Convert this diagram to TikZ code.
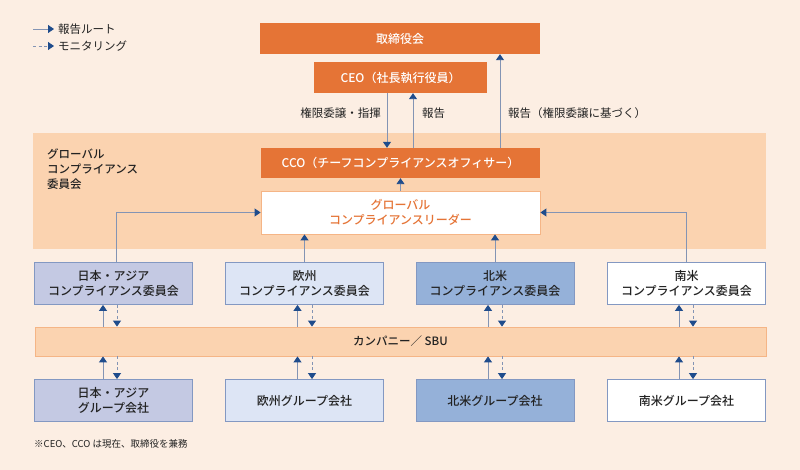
\documentclass[tikz,border=0pt]{standalone}
\usepackage{fontspec}
\setmainfont{Noto Sans CJK JP}[BoldFont={Noto Sans CJK JP Medium}]
\usetikzlibrary{arrows.meta}
\definecolor{bg}{HTML}{FCEEE3}
\definecolor{band}{HTML}{FBD3B0}
\definecolor{bandedge}{HTML}{F5B586}
\definecolor{orng}{HTML}{E57436}
\definecolor{txt}{HTML}{222222}
\definecolor{lnc}{HTML}{8394B4}
\definecolor{ahc}{HTML}{1F4C8C}
\definecolor{jpfill}{HTML}{C4C9E3}
\definecolor{eufill}{HTML}{DDE5F5}
\definecolor{nafill}{HTML}{95B1D9}
\definecolor{boxedge}{HTML}{8398C2}
\tikzset{
  every node/.style={font=\fontsize{11.5}{14.5}\selectfont, text=txt},
  obox/.style={fill=orng, draw=none, text=white, font=\fontsize{12}{14.5}\selectfont\bfseries, align=center, inner sep=0pt},
  rbox/.style={draw=boxedge, line width=0.8pt, minimum width=158pt, minimum height=42pt, align=center, inner sep=0pt, font=\fontsize{12}{14.5}\selectfont\bfseries},
  conn/.style={draw=lnc, line width=0.9pt, -{Triangle[length=6pt,width=8pt,color=ahc,fill=ahc]}},
  mon/.style={conn, dash pattern=on 3pt off 2.5pt},
}
\begin{document}
\begin{tikzpicture}[x=1pt,y=-1pt]
\fill[bg] (0,0) rectangle (800,470);
\useasboundingbox (0,0) rectangle (800,470);
% legend
\coordinate (la1) at (33,29); \coordinate (lb1) at (54,29);
\coordinate (la2) at (33,46); \coordinate (lb2) at (54,46);
\draw[conn] (la1) -- (lb1);
\draw[mon] (la2) -- (lb2);
\node[anchor=west, inner sep=0pt] (lt1) at (58,29) {報告ルート};
\node[anchor=west, inner sep=0pt] (lt2) at (58,46) {モニタリング};
% global band
\node[fill=band, minimum width=733pt, minimum height=116pt, inner sep=0pt] (gband) at (399.5,191) {};
\node[anchor=north west, align=left, inner sep=0pt, font=\fontsize{11.5}{15}\selectfont\bfseries] (gtitle) at (47,148.5) {グローバル\\コンプライアンス\\委員会};
% top boxes
\node[obox, minimum width=280pt, minimum height=31pt] (board) at (400,38.5) {取締役会};
\node[obox, minimum width=173pt, minimum height=31pt] (ceo) at (400.5,77.5) {CEO（社長執行役員）};
\node[obox, minimum width=279pt, minimum height=30pt] (cco) at (400.5,163) {CCO（チーフコンプライアンスオフィサー）};
\node[fill=white, draw=bandedge, line width=0.8pt, minimum width=279pt, minimum height=43pt, align=center, inner sep=0pt, text=orng, font=\fontsize{12}{14.5}\selectfont\bfseries] (leader) at (400.5,212.5) {グローバル\\コンプライアンスリーダー};
% top connectors
\coordinate (x387) at (387,0); \coordinate (x413) at (413,0); \coordinate (x500) at (500,0);
\draw[conn] (ceo.south -| x387) -- (cco.north -| x387);
\draw[conn] (cco.north -| x413) -- (ceo.south -| x413);
\draw[conn] (cco.north -| x500) -- (board.south -| x500);
\draw[conn] (leader.north) -- (cco.south);
\node[anchor=east, inner sep=0pt] (lab1) at (381,113) {権限委譲・指揮};
\node[anchor=west, inner sep=0pt] (lab2) at (422,113) {報告};
\node[anchor=west, inner sep=0pt] (lab3) at (508,113) {報告（権限委譲に基づく）};
% regional committees
\node[rbox, fill=jpfill] (jc) at (113.5,283.5) {日本・アジア\\コンプライアンス委員会};
\node[rbox, fill=eufill] (ec) at (304.5,283.5) {欧州\\コンプライアンス委員会};
\node[rbox, fill=nafill] (nc) at (495,283.5) {北米\\コンプライアンス委員会};
\node[rbox, fill=white] (sc) at (686.5,283.5) {南米\\コンプライアンス委員会};
% company band
\node[fill=band, draw=bandedge, line width=0.8pt, minimum width=731pt, minimum height=29pt, inner sep=0pt, font=\fontsize{11.5}{14}\selectfont\bfseries] (sbu) at (400.5,341.5) {カンパニー／ SBU};
% groups
\node[rbox, fill=jpfill] (jg) at (113.5,400.5) {日本・アジア\\グループ会社};
\node[rbox, fill=eufill] (eg) at (304.5,400.5) {欧州グループ会社};
\node[rbox, fill=nafill] (ng) at (495,400.5) {北米グループ会社};
\node[rbox, fill=white] (sg) at (686.5,400.5) {南米グループ会社};
% committee to leader
\coordinate (x116) at (116,0); \coordinate (x686) at (686,0);
\draw[conn] (jc.north -| x116) |- (leader.west);
\draw[conn] (sc.north -| x686) |- (leader.east);
\draw[conn] (ec.north) -- (leader.south -| ec.north);
\draw[conn] (nc.north) -- (leader.south -| nc.north);
% vertical pairs
\foreach \c/\g/\s/\d in {jc/jg/103/117, ec/eg/297.5/312, nc/ng/488/502, sc/sg/679/693}{
  \coordinate (s) at (\s,0); \coordinate (d) at (\d,0);
  \draw[conn] (sbu.north -| s) -- (\c.south -| s);
  \draw[mon] (\c.south -| d) -- (sbu.north -| d);
  \draw[conn] (\g.north -| s) -- (sbu.south -| s);
  \draw[mon] (sbu.south -| d) -- (\g.north -| d);
}
\node[anchor=west, inner sep=0pt, font=\fontsize{9.5}{12}\selectfont] (foot) at (34,444) {※CEO、CCO は現在、取締役を兼務};
\end{tikzpicture}
\end{document}
